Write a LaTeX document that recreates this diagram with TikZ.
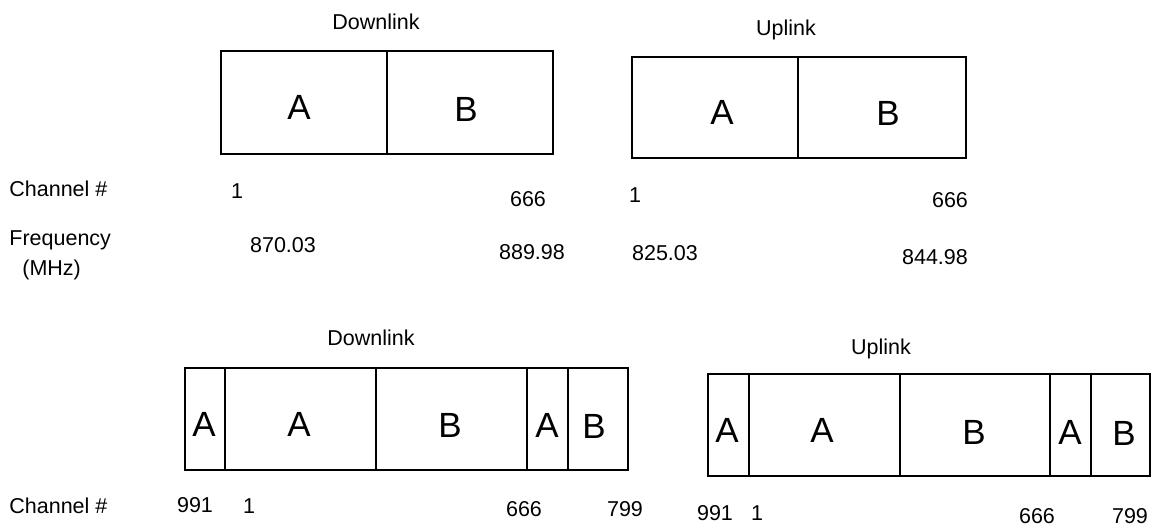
\documentclass[tikz,border=0pt]{standalone}
\usepackage{fontspec}
\setmainfont{Liberation Sans}
\usetikzlibrary{positioning}
\tikzset{
  band/.style ={draw, line width=1pt},
  sep/.style  ={line width=1pt},
  lbl/.style  ={font=\fontsize{10.75}{12}\selectfont, inner sep=0pt,
                text height=7.7pt, text depth=0pt},
  cell/.style ={font=\fontsize{17.5}{20}\selectfont, inner sep=0pt,
                text height=12.5pt, text depth=0pt},
}
\begin{document}
\begin{tikzpicture}[x=0.5pt, y=-0.5pt]
  \useasboundingbox (0,0) rectangle (1156,527);
  % ---- 666 channels: downlink
  \node[lbl] (dlT) at (376,22) {Downlink};
  \draw[band] (221,51) rectangle (553,154);
  \draw[sep] (387,51) -- (387,154);
  \node[cell] (dlA) at (299,107) {A};
  \node[cell] (dlB) at (466,109) {B};
  % ---- 666 channels: uplink
  \node[lbl] (ulT) at (786,28) {Uplink};
  \draw[band] (632,57) rectangle (966,158);
  \draw[sep] (798,57) -- (798,158);
  \node[cell] (ulA) at (722,112) {A};
  \node[cell] (ulB) at (888,113) {B};
  % ---- channel numbers and frequencies
  \node[lbl, anchor=west] (chan)  at (9,189)   {Channel \#};
  \node[lbl, anchor=west] (freq)  at (9,238)   {Frequency};
  \node[lbl, anchor=west] (mhz)   at (22,268)  {(MHz)};
  \node[lbl] (dlc1)   at (237,191) {1};
  \node[lbl] (dlc666) at (528,199) {666};
  \node[lbl] (dlf1)   at (283,245) {870.03};
  \node[lbl] (dlf2)   at (532,252) {889.98};
  \node[lbl] (ulc1)   at (635,195) {1};
  \node[lbl] (ulc666) at (950,200) {666};
  \node[lbl] (ulf1)   at (665,253) {825.03};
  \node[lbl] (ulf2)   at (935,257) {844.98};
  % ---- extended band (991--799): downlink
  \node[lbl] (edlT) at (371,338) {Downlink};
  \draw[band] (185,368) rectangle (628,470);
  \foreach \x in {225,376,527,568}
    \draw[sep] (\x,368) -- (\x,470);
  \node[cell] (edlA1) at (204,424) {A};
  \node[cell] (edlA2) at (299,424) {A};
  \node[cell] (edlB1) at (450,425) {B};
  \node[cell] (edlA3) at (547,425) {A};
  \node[cell] (edlB2) at (594,426) {B};
  % ---- extended band (991--799): uplink
  \node[lbl] (eulT) at (881,347) {Uplink};
  \draw[band] (708,374) rectangle (1150,476);
  \foreach \x in {749,900,1050,1091}
    \draw[sep] (\x,374) -- (\x,476);
  \node[cell] (eulA1) at (727,430) {A};
  \node[cell] (eulA2) at (822,430) {A};
  \node[cell] (eulB1) at (974,432) {B};
  \node[cell] (eulA3) at (1070,432) {A};
  \node[cell] (eulB2) at (1124,433) {B};
  % ---- channel numbers under the extended bands
  \node[lbl, anchor=west] (chan2) at (9,506) {Channel \#};
  \node[lbl] (edl991) at (195,505) {991};
  \node[lbl] (edl1)   at (249,506) {1};
  \node[lbl] (edl666) at (524,509) {666};
  \node[lbl] (edl799) at (625,509) {799};
  \node[lbl] (eul991) at (715,513) {991};
  \node[lbl] (eul1)   at (757,513) {1};
  \node[lbl] (eul666) at (1037,516) {666};
  \node[lbl] (eul799) at (1130,516) {799};
\end{tikzpicture}
\end{document}
